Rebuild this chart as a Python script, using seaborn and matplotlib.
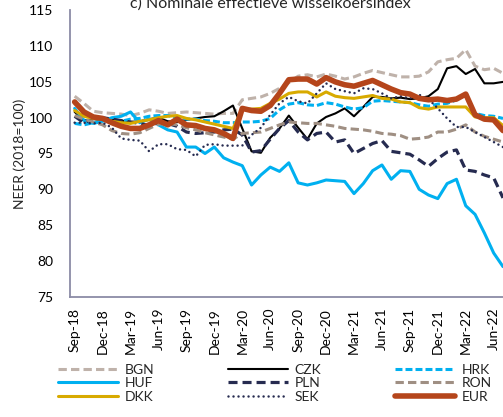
import matplotlib
matplotlib.use("Agg")
import matplotlib.pyplot as plt
import pandas as pd
import seaborn as sns

# monthly NEER index (2018=100), Sep-18 .. Jul-22
months = pd.date_range("2018-09-01", periods=47, freq="MS")
tick_labels = [m.strftime("%b-%y") for m in months]

bgn = [103.0, 102.0, 100.9, 100.7, 100.6, 100.5, 100.3, 100.6, 101.1, 100.9,
       100.6, 100.7, 100.8, 100.7, 100.6, 100.5, 100.6, 100.6, 102.5, 102.7,
       102.9, 103.4, 104.1, 104.9, 105.8, 106.0, 105.7, 106.1, 105.8, 105.4,
       105.7, 106.2, 106.6, 106.3, 106.0, 105.7, 105.7, 105.8, 106.4, 107.8,
       108.1, 108.3, 109.5, 107.2, 106.7, 106.9, 106.2]
czk = [100.8, 99.7, 99.4, 99.6, 99.8, 99.6, 99.4, 99.5, 99.8, 100.0,
       99.5, 99.4, 99.7, 99.9, 100.1, 100.2, 100.9, 101.7, 98.5, 95.3,
       95.1, 97.2, 98.5, 100.3, 98.6, 97.0, 99.2, 100.1, 100.6, 101.3,
       100.2, 101.5, 102.9, 102.9, 102.7, 102.8, 102.6, 102.7, 103.0, 104.0,
       106.9, 107.2, 106.1, 106.8, 104.8, 104.8, 105.0]
hrk = [99.2, 99.0, 99.3, 99.5, 99.7, 99.5, 99.8, 99.9, 100.2, 100.3,
       100.3, 100.0, 99.8, 99.8, 99.6, 99.5, 99.3, 99.3, 99.4, 99.4,
       99.5, 99.9, 101.1, 101.9, 102.1, 101.8, 101.7, 102.1, 101.9, 101.5,
       101.2, 101.4, 102.3, 102.4, 102.3, 102.2, 102.1, 101.8, 101.6, 101.9,
       102.0, 102.5, 103.3, 100.6, 100.3, 100.2, 99.9]
huf = [101.3, 99.6, 99.2, 99.5, 100.0, 100.2, 100.8, 99.3, 99.8, 99.0,
       98.3, 98.0, 95.9, 95.9, 95.0, 95.9, 94.4, 93.8, 93.3, 90.6,
       92.0, 93.1, 92.5, 93.7, 90.9, 90.6, 90.9, 91.3, 91.2, 91.1,
       89.4, 90.8, 92.6, 93.4, 91.4, 92.6, 92.5, 90.0, 89.2, 88.7,
       90.8, 91.4, 87.7, 86.5, 83.9, 81.1, 79.2]
pln = [100.2, 99.3, 99.9, 100.0, 99.8, 99.6, 99.4, 99.2, 98.9, 99.3,
       99.2, 98.8, 98.0, 97.8, 97.9, 98.0, 98.3, 98.4, 97.6, 95.2,
       95.4, 97.0, 98.5, 99.6, 98.0, 96.9, 97.8, 98.0, 96.6, 96.9,
       95.0, 95.7, 96.4, 96.8, 95.3, 95.1, 94.9, 94.1, 93.2, 94.3,
       95.2, 95.5, 92.7, 92.5, 92.0, 91.6, 88.8]
ron = [100.3, 99.8, 99.4, 99.0, 98.2, 97.8, 97.7, 97.9, 98.5, 99.1,
       99.2, 99.0, 98.6, 98.3, 97.9, 97.6, 97.3, 97.0, 97.8, 97.9,
       98.0, 98.5, 99.0, 99.4, 99.3, 99.2, 99.2, 99.0, 98.8, 98.5,
       98.4, 98.3, 98.1, 97.8, 97.7, 97.5, 97.0, 97.1, 97.3, 98.0,
       98.0, 98.4, 99.0, 98.0, 97.4, 97.0, 96.6]
dkk = [101.0, 100.2, 99.9, 99.8, 99.5, 99.3, 99.2, 99.5, 99.7, 100.0,
       100.2, 100.3, 99.9, 99.7, 99.4, 99.1, 98.8, 98.5, 101.2, 101.2,
       101.3, 102.0, 102.6, 103.4, 103.6, 103.6, 102.9, 103.6, 103.0, 102.8,
       102.7, 102.9, 103.1, 102.7, 102.6, 102.2, 102.1, 101.4, 101.2, 101.5,
       101.5, 101.5, 101.5, 100.1, 100.0, 100.0, 98.9]
sek = [99.3, 99.3, 99.2, 99.3, 98.6, 97.1, 96.9, 96.8, 95.3, 96.3,
       96.3, 95.6, 95.5, 94.6, 96.2, 96.3, 96.1, 96.1, 96.1, 97.6,
       98.6, 100.4, 102.0, 102.9, 102.3, 102.0, 103.4, 104.8, 104.0, 103.7,
       103.4, 104.1, 104.0, 103.4, 102.7, 103.0, 102.7, 103.2, 102.6, 101.3,
       99.9, 98.7, 98.7, 98.0, 97.3, 96.6, 95.9]
eur = [102.2, 100.8, 100.1, 99.9, 99.3, 98.8, 98.5, 98.5, 99.0, 99.6,
       99.0, 99.8, 99.0, 98.9, 98.5, 98.3, 97.8, 97.1, 101.3, 101.0,
       100.9, 101.7, 103.4, 105.3, 105.4, 105.4, 104.7, 105.6, 105.0, 104.6,
       104.4, 104.8, 105.2, 104.6, 104.0, 103.5, 103.3, 102.7, 102.5, 102.6,
       102.4, 102.6, 103.3, 100.4, 99.8, 99.7, 98.2]

series = {"BGN": bgn, "CZK": czk, "HRK": hrk, "HUF": huf, "PLN": pln,
          "RON": ron, "DKK": dkk, "SEK": sek, "EUR": eur}

styles = {
    "BGN": dict(color="#BFB2AA", lw=2.2, ls=(0, (6.0, 3.0))),
    "CZK": dict(color="#000000", lw=1.5, ls="-"),
    "HRK": dict(color="#00B0F0", lw=2.2, ls=(0, (5.0, 2.2))),
    "HUF": dict(color="#00B0F0", lw=2.2, ls="-"),
    "PLN": dict(color="#262B50", lw=2.3, ls=(0, (6.5, 3.6))),
    "RON": dict(color="#9F8F83", lw=2.2, ls=(0, (6.0, 3.0))),
    "DKK": dict(color="#D8AA00", lw=2.2, ls="-"),
    "SEK": dict(color="#262B50", lw=1.8, ls=(0, (0.01, 3.6))),
    "EUR": dict(color="#B5451B", lw=4.0, ls="-"),
}

sns.set_style("white")
plt.rcParams["font.family"] = ["Lato", "DejaVu Sans"]
plt.rcParams["lines.scale_dashes"] = False

fig = plt.figure(figsize=(5.03, 4.17), dpi=100)
ax = fig.add_axes([70 / 503, 120.3 / 417, 433 / 503, 286.4 / 417])

x = list(range(len(months)))
handles = {}
for name, values in series.items():
    st = styles[name]
    df = pd.DataFrame({"month": x, "neer": values})
    sns.lineplot(data=df, x="month", y="neer", ax=ax, color=st["color"],
                 linewidth=st["lw"], linestyle=st["ls"], label=name,
                 dash_capstyle="round" if name == "SEK" else "butt",
                 solid_joinstyle="round", legend=False)
    handles[name] = ax.lines[-1]

ax.set_xlim(-0.5, 46.0)
ax.set_ylim(75, 115)
ax.set_yticks(range(75, 116, 5))
ax.set_xticks(x[::3])
ax.set_xticklabels(tick_labels[::3], rotation=90)
ax.tick_params(axis="x", length=0, pad=8, labelsize=10, colors="#000000")
ax.tick_params(axis="y", length=0, pad=12, labelsize=10, colors="#000000")
ax.set_xlabel("")
ax.set_ylabel("NEER (2018=100)", fontsize=10, va="center")
ax.yaxis.set_label_coords(-0.117, 0.5)

sns.despine(ax=ax, top=True, right=True)
for side in ["left", "bottom"]:
    ax.spines[side].set_color("#8B8BA6")
    ax.spines[side].set_linewidth(1.3)

fig.text(270 / 503, 1 - 7.5 / 417, "c) Nominale effectieve wisselkoersindex",
         ha="center", va="baseline", fontsize=11.5)

order = ["BGN", "HUF", "DKK", "CZK", "PLN", "SEK", "HRK", "RON", "EUR"]
fig.legend([handles[n] for n in order], order, ncol=3, loc="upper left",
           bbox_to_anchor=(58 / 503, 1 - 363.5 / 417), frameon=False,
           fontsize=10, handlelength=4.3, handletextpad=0.5,
           columnspacing=5.3, labelspacing=0.12, borderpad=0,
           borderaxespad=0)

fig.savefig("out.png", dpi=100)
